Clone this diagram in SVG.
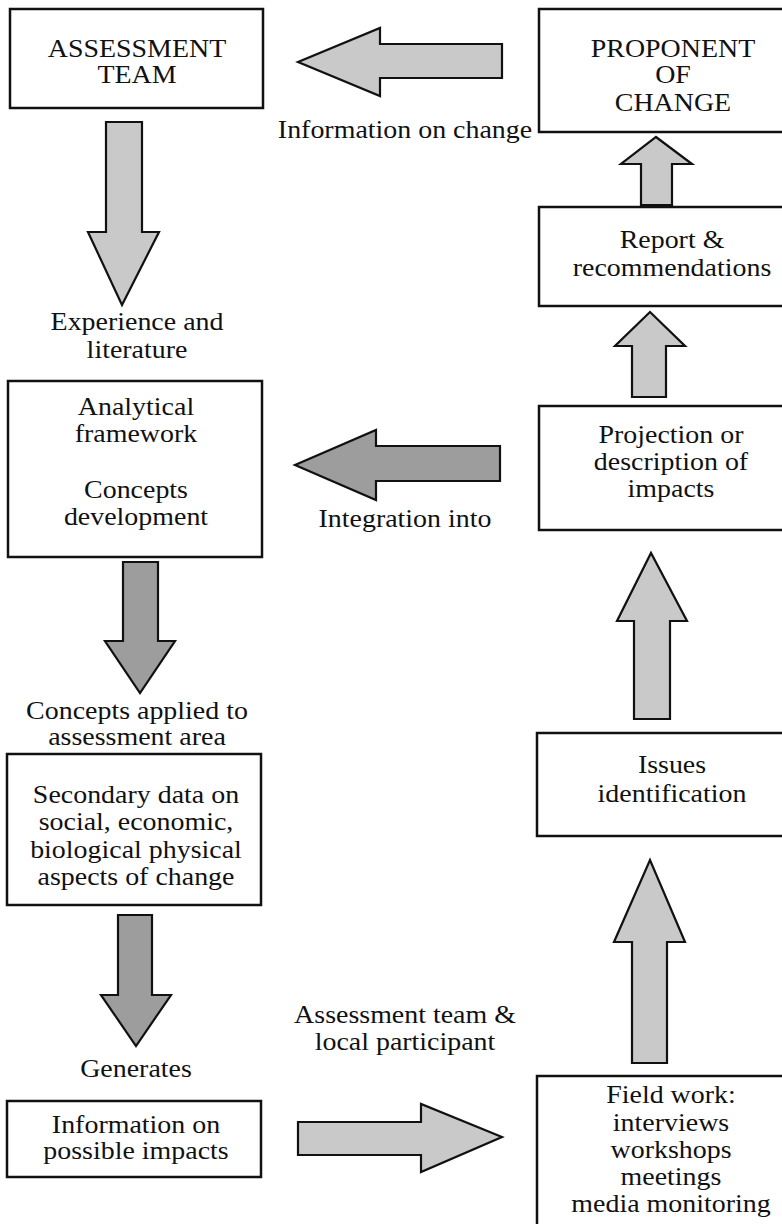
<svg xmlns="http://www.w3.org/2000/svg" width="782" height="1224" viewBox="0 0 782 1224">
<style>
  .box { fill: #ffffff; stroke: #111111; stroke-width: 2.5; }
  .light { fill: #c9c9c9; stroke: #111111; stroke-width: 2.2; stroke-linejoin: miter; }
  .dark { fill: #9d9d9d; stroke: #111111; stroke-width: 2.2; stroke-linejoin: miter; }
  text { font-family: "Liberation Serif", "Times New Roman", serif; font-size: 24.5px; fill: #111111; text-anchor: middle; }
</style>
<rect width="782" height="1224" fill="#ffffff"/>

<g id="connectors">
  <polygon class="light" points="502,44 380,44 380,28 298,62 380,96 380,78 502,78"/>
  <polygon class="light" points="106,122 142,122 142,232 159,232 122,305 88,232 106,232"/>
  <polygon class="light" points="641,205 641,164 621,164 656,137 692,164 672,164 672,205"/>
  <polygon class="light" points="632,397 632,346 615,346 650,312 685,346 666,346 666,397"/>
  <polygon class="dark" points="500,446 376,446 376,430 295,465 376,500 376,481 500,481"/>
  <polygon class="light" points="634,719 634,621 617,621 651,553 687,621 670,621 670,719"/>
  <polygon class="dark" points="123,562 158,562 158,641 175,641 140,693 105,641 123,641"/>
  <polygon class="dark" points="118,915 152,915 152,995 171,995 136,1046 101,995 118,995"/>
  <polygon class="light" points="632,1063 632,942 614,942 650,860 685,942 667,942 667,1063"/>
  <polygon class="light" points="298,1122 421,1122 421,1104 502,1137 421,1172 421,1155 298,1155"/>
  <text transform="translate(405,138) scale(1.14,1)">Information on change</text>
  <text transform="translate(137,330) scale(1.14,1)">Experience and</text>
  <text transform="translate(137,358) scale(1.14,1)">literature</text>
  <text transform="translate(405,527) scale(1.14,1)">Integration into</text>
  <text transform="translate(137,719) scale(1.14,1)">Concepts applied to</text>
  <text transform="translate(137,745) scale(1.14,1)">assessment area</text>
  <text transform="translate(136,1077) scale(1.14,1)">Generates</text>
  <text transform="translate(405,1023) scale(1.14,1)">Assessment team &amp;</text>
  <text transform="translate(405,1050) scale(1.14,1)">local participant</text>
</g>

<g id="assessment-team">
  <rect class="box" x="10" y="9" width="253" height="99"/>
  <text transform="translate(137,57) scale(1.14,1)">ASSESSMENT</text>
  <text transform="translate(137,83) scale(1.14,1)">TEAM</text>
</g>

<g id="proponent-of-change">
  <rect class="box" x="539" y="9" width="272" height="123"/>
  <text transform="translate(673,57) scale(1.14,1)">PROPONENT</text>
  <text transform="translate(673,83) scale(1.14,1)">OF</text>
  <text transform="translate(673,111) scale(1.14,1)">CHANGE</text>
</g>

<g id="report">
  <rect class="box" x="539" y="207" width="272" height="99"/>
  <text transform="translate(672,248) scale(1.14,1)">Report &amp;</text>
  <text transform="translate(672,276) scale(1.14,1)">recommendations</text>
</g>

<g id="projection">
  <rect class="box" x="539" y="406" width="272" height="124"/>
  <text transform="translate(671,443) scale(1.14,1)">Projection or</text>
  <text transform="translate(671,470) scale(1.14,1)">description of</text>
  <text transform="translate(671,497) scale(1.14,1)">impacts</text>
</g>

<g id="analytical-framework">
  <rect class="box" x="8" y="381" width="254" height="176"/>
  <text transform="translate(136,415) scale(1.14,1)">Analytical</text>
  <text transform="translate(136,442) scale(1.14,1)">framework</text>
  <text transform="translate(136,498) scale(1.14,1)">Concepts</text>
  <text transform="translate(136,525) scale(1.14,1)">development</text>
</g>

<g id="issues-identification">
  <rect class="box" x="537" y="733" width="274" height="103"/>
  <text transform="translate(672,773) scale(1.14,1)">Issues</text>
  <text transform="translate(672,802) scale(1.14,1)">identification</text>
</g>

<g id="secondary-data">
  <rect class="box" x="7" y="754" width="254" height="151"/>
  <text transform="translate(136,803) scale(1.14,1)">Secondary data on</text>
  <text transform="translate(136,830) scale(1.14,1)">social, economic,</text>
  <text transform="translate(136,858) scale(1.14,1)">biological physical</text>
  <text transform="translate(136,885) scale(1.14,1)">aspects of change</text>
</g>

<g id="information-on-impacts">
  <rect class="box" x="7" y="1101" width="254" height="76"/>
  <text transform="translate(136,1133) scale(1.14,1)">Information on</text>
  <text transform="translate(136,1159) scale(1.14,1)">possible impacts</text>
</g>

<g id="field-work">
  <rect class="box" x="537" y="1076" width="274" height="170"/>
  <text transform="translate(671,1103) scale(1.14,1)">Field work:</text>
  <text transform="translate(671,1131) scale(1.14,1)">interviews</text>
  <text transform="translate(671,1158) scale(1.14,1)">workshops</text>
  <text transform="translate(671,1185) scale(1.14,1)">meetings</text>
  <text transform="translate(671,1212) scale(1.14,1)">media monitoring</text>
</g>
</svg>
